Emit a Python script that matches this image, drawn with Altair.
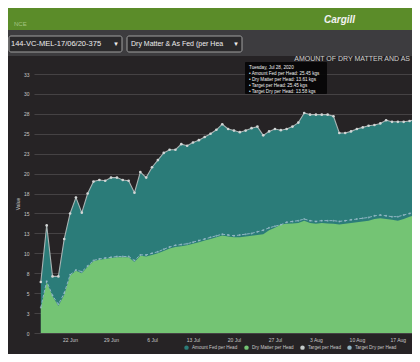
import altair as alt
import pandas as pd

# ---- data (daily, starting 17 Jun 2020) ----
start_date = "2020-06-17"
n_days = 65
amount_fed = [6.4, 13.5, 7.1, 7.1, 11.8, 15.0, 17.0, 15.1, 17.5, 19.0,
              19.2, 19.1, 19.5, 19.5, 19.2, 19.1, 17.6, 20.2, 19.5, 20.8,
              21.7, 22.6, 23.0, 23.0, 23.7, 23.5, 23.9, 24.2, 24.6, 25.0,
              25.5, 26.2, 25.6, 25.4, 25.2, 25.4, 25.7, 25.9, 24.8, 25.3,
              25.6, 25.45, 25.6, 25.9, 26.4, 27.6, 27.4, 27.4, 27.4, 27.4,
              27.2, 25.1, 25.1, 25.3, 25.6, 25.8, 26.0, 26.1, 26.3, 26.7,
              26.5, 26.5, 26.5, 26.6, 26.8]
dry_matter = [3.1, 6.4, 4.6, 3.4, 4.8, 7.2, 7.8, 7.5, 8.3, 9.0,
              9.2, 9.3, 9.4, 9.5, 9.5, 9.5, 8.9, 9.7, 9.6, 9.8,
              10.0, 10.3, 10.6, 10.8, 10.9, 11.0, 11.2, 11.4, 11.6, 11.8,
              12.0, 12.25, 12.1, 12.0, 12.0, 12.1, 12.2, 12.3, 12.4, 12.9,
              13.2, 13.61, 13.7, 13.75, 13.8, 14.1, 13.8, 13.7, 13.8, 13.75,
              13.7, 13.6, 13.7, 13.8, 13.9, 14.0, 14.1, 14.3, 14.4, 14.3,
              14.2, 14.1, 14.3, 14.6, 14.8]
target_fed = [6.4, 13.5, 7.1, 7.1, 11.8, 15.0, 17.0, 15.1, 17.5, 19.0,
              19.2, 19.1, 19.5, 19.5, 19.2, 19.1, 17.6, 20.2, 19.5, 20.8,
              21.7, 22.6, 23.0, 23.0, 23.7, 23.5, 23.9, 24.2, 24.6, 25.0,
              25.5, 26.2, 25.6, 25.4, 25.2, 25.4, 25.7, 25.9, 24.8, 25.3,
              25.6, 25.45, 25.6, 25.9, 26.4, 27.6, 27.4, 27.4, 27.4, 27.4,
              27.2, 25.1, 25.1, 25.3, 25.6, 25.8, 26.0, 26.1, 26.3, 26.7,
              26.5, 26.5, 26.5, 26.6, 26.8]
target_dry = [3.2, 6.5, 4.7, 3.6, 5.0, 7.3, 7.9, 7.7, 8.4, 9.1,
              9.3, 9.4, 9.5, 9.6, 9.6, 9.6, 9.1, 9.8, 9.8, 10.0,
              10.2, 10.5, 10.8, 11.0, 11.1, 11.2, 11.4, 11.6, 11.8, 12.0,
              12.2, 12.4, 12.3, 12.2, 12.3, 12.4, 12.5, 12.7, 12.9, 13.2,
              13.4, 13.58, 13.9, 14.0, 14.1, 14.3, 14.1, 14.0, 14.1, 14.1,
              14.1, 14.0, 14.1, 14.2, 14.3, 14.4, 14.5, 14.7, 14.8, 14.7,
              14.6, 14.6, 14.8, 15.0, 15.2]

series = ["Amount Fed per Head", "Dry Matter per Head", "Target per Head", "Target Dry per Head"]
series_colors = ["#2b7c79", "#74c474", "#c4caca", "#8fb3c4"]
y_ticks = [0, 2.5, 5, 7.5, 10, 12.5, 15, 17.5, 20, 22.5, 25, 27.5, 30, 32.5]
x_ticks = [(6, 22), (6, 29), (7, 6), (7, 13), (7, 20), (7, 27), (8, 3), (8, 10), (8, 17)]
hover_index = 41  # Tuesday, Jul 28, 2020

title_text = "AMOUNT OF DRY MATTER AND AS"
farm_lot = "144-VC-MEL-17/06/20-375"
report_name = "Dry Matter & As Fed (per Hea"

FONT = "Liberation Sans"
BG = "#262325"
TXT = "#c6c6c6"

dates = pd.date_range(start_date, periods=n_days, freq="D")
date_str = dates.strftime("%Y-%m-%dT00:00:00").tolist()

rows = []
for name, vals in zip(series, [amount_fed, dry_matter, target_fed, target_dry]):
    for d, v in zip(date_str, vals):
        rows.append({"date": d, "series": name, "value": v})
df = pd.DataFrame(rows)

x_enc = alt.X(
    "date:T",
    scale=alt.Scale(domain=[alt.DateTime(year=2020, month=6, date=15, hours=20),
                            alt.DateTime(year=2020, month=8, date=19, hours=10)]),
    axis=alt.Axis(title=None, values=[alt.DateTime(year=2020, month=m, date=d) for m, d in x_ticks],
                  format="%-d %b", grid=False, domain=False, ticks=False,
                  labelColor=TXT, labelFontSize=5, labelFont=FONT, labelPadding=4),
)
y_enc = alt.Y(
    "value:Q", stack=None,
    scale=alt.Scale(domain=[0, 32.5], nice=False, zero=True),
    axis=alt.Axis(title="Value", values=y_ticks, grid=True, gridColor="#4e4a4c", gridWidth=0.8,
                  domain=False, ticks=False, labelColor=TXT, labelFontSize=5, labelFont=FONT,
                  labelPadding=5, titleColor=TXT, titleFontSize=5, titleFont=FONT,
                  titleFontWeight="normal", titlePadding=3),
)
color_scale = alt.Scale(domain=series, range=series_colors)
color_leg = alt.Color(
    "series:N", scale=color_scale,
    legend=alt.Legend(title=None, orient="none", legendX=150, legendY=271, direction="horizontal",
                      symbolType="circle", symbolSize=20, symbolStrokeWidth=0,
                      labelFontSize=4.6, labelColor=TXT, labelFont=FONT, columnPadding=6,
                      labelOffset=3, labelLimit=120),
)
color_noleg = alt.Color("series:N", scale=color_scale, legend=None)

base = alt.Chart(df)
amount_area = base.transform_filter(alt.datum.series == series[0]).mark_area(
    clip=True, opacity=1).encode(x=x_enc, y=y_enc, color=color_leg)
dry_area = base.transform_filter(alt.datum.series == series[1]).mark_area(
    clip=True, opacity=1).encode(x=x_enc, y=y_enc, color=color_noleg)
tdry_line = base.transform_filter(alt.datum.series == series[3]).mark_line(
    clip=True, strokeWidth=1, strokeDash=[3, 2]).encode(x=x_enc, y=y_enc, color=color_noleg)
tdry_pts = base.transform_filter(alt.datum.series == series[3]).mark_point(
    clip=True, filled=True, size=4, opacity=0.7, color="#9cc0cc").encode(x=x_enc, y=y_enc)
tfed_line = base.transform_filter(alt.datum.series == series[2]).mark_line(
    clip=True, strokeWidth=1.1, color="#a9b4b4").encode(x=x_enc, y=y_enc)
tfed_pts = base.transform_filter(alt.datum.series == series[2]).mark_point(
    clip=True, filled=True, size=7, opacity=1, color="#d2d6d6").encode(x=x_enc, y=y_enc)

one = pd.DataFrame({"k": [0]})
deco = alt.Chart(one)

header = deco.mark_rect(color="#5b8c29").encode(
    x=alt.value(-26), x2=alt.value(378), y=alt.value(-66), y2=alt.value(-44))
header_left = deco.mark_text(text="NCE", font=FONT, fontSize=6, color="#b9d39a", opacity=0.8,
                             align="left", baseline="middle").encode(x=alt.value(-20), y=alt.value(-50))
logo = deco.mark_text(text="Cargill", font=FONT, fontSize=10, fontWeight="bold", fontStyle="italic",
                      color="#f2f2f2", align="left", baseline="middle").encode(x=alt.value(290), y=alt.value(-54))
toolbar = deco.mark_rect(color="#3d3c3f").encode(
    x=alt.value(-26), x2=alt.value(378), y=alt.value(-44), y2=alt.value(-18))
dd1 = deco.mark_rect(color="#2a292b", stroke="#a0a0a0", strokeWidth=1, cornerRadius=2).encode(
    x=alt.value(-25), x2=alt.value(88), y=alt.value(-38), y2=alt.value(-22))
dd2 = deco.mark_rect(color="#2a292b", stroke="#a0a0a0", strokeWidth=1, cornerRadius=2).encode(
    x=alt.value(93), x2=alt.value(208), y=alt.value(-38), y2=alt.value(-22))
dd1_text = deco.mark_text(text=farm_lot, font=FONT, fontSize=7.5, color="#eeeeee",
                          align="left", baseline="middle").encode(x=alt.value(-23), y=alt.value(-30))
dd1_arrow = deco.mark_text(text="▾", font="DejaVu Sans", fontSize=7, color="#eeeeee",
                           align="center", baseline="middle").encode(x=alt.value(82), y=alt.value(-30))
dd2_text = deco.mark_text(text=report_name, font=FONT, fontSize=7, color="#eeeeee",
                          align="left", baseline="middle").encode(x=alt.value(97), y=alt.value(-30))
dd2_arrow = deco.mark_text(text="▾", font="DejaVu Sans", fontSize=7, color="#eeeeee",
                           align="center", baseline="middle").encode(x=alt.value(202), y=alt.value(-30))
chart_title = deco.mark_text(text=title_text, font=FONT, fontSize=7, color="#cfcfcf",
                             align="right", baseline="middle").encode(x=alt.value(376), y=alt.value(-15))

hover_date = dates[hover_index].strftime("%A, %b %d, %Y")
tip_lines = [
    hover_date,
    f"• {series[0]}: {amount_fed[hover_index]:.2f} kgs",
    f"• {series[1]}: {dry_matter[hover_index]:.2f} kgs",
    f"• {series[2]}: {target_fed[hover_index]:.2f} kgs",
    f"• {series[3]}: {target_dry[hover_index]:.2f} kgs",
]
tip_box = deco.mark_rect(color="#050505", opacity=0.92, cornerRadius=1).encode(
    x=alt.value(211), x2=alt.value(293), y=alt.value(-12), y2=alt.value(20))
tip_text = deco.mark_text(text=tip_lines, font=FONT, fontSize=4.6, lineHeight=6, color="#f0f0f0",
                          align="left", baseline="top").encode(x=alt.value(215), y=alt.value(-9))

chart = alt.layer(
    header, header_left, logo, toolbar, dd1, dd2, dd1_text, dd1_arrow, dd2_text, dd2_arrow,
    amount_area, dry_area, tdry_line, tdry_pts, tfed_line, tfed_pts,
    chart_title, tip_box, tip_text,
).properties(
    width=378, height=259,
    padding={"left": 26, "top": 66, "right": 0, "bottom": 21},
    autosize=alt.AutoSizeParams(type="none"),
    background=BG,
).configure_view(strokeWidth=0)

chart.save("out.html", embed_options={"renderer": "svg", "actions": False})
